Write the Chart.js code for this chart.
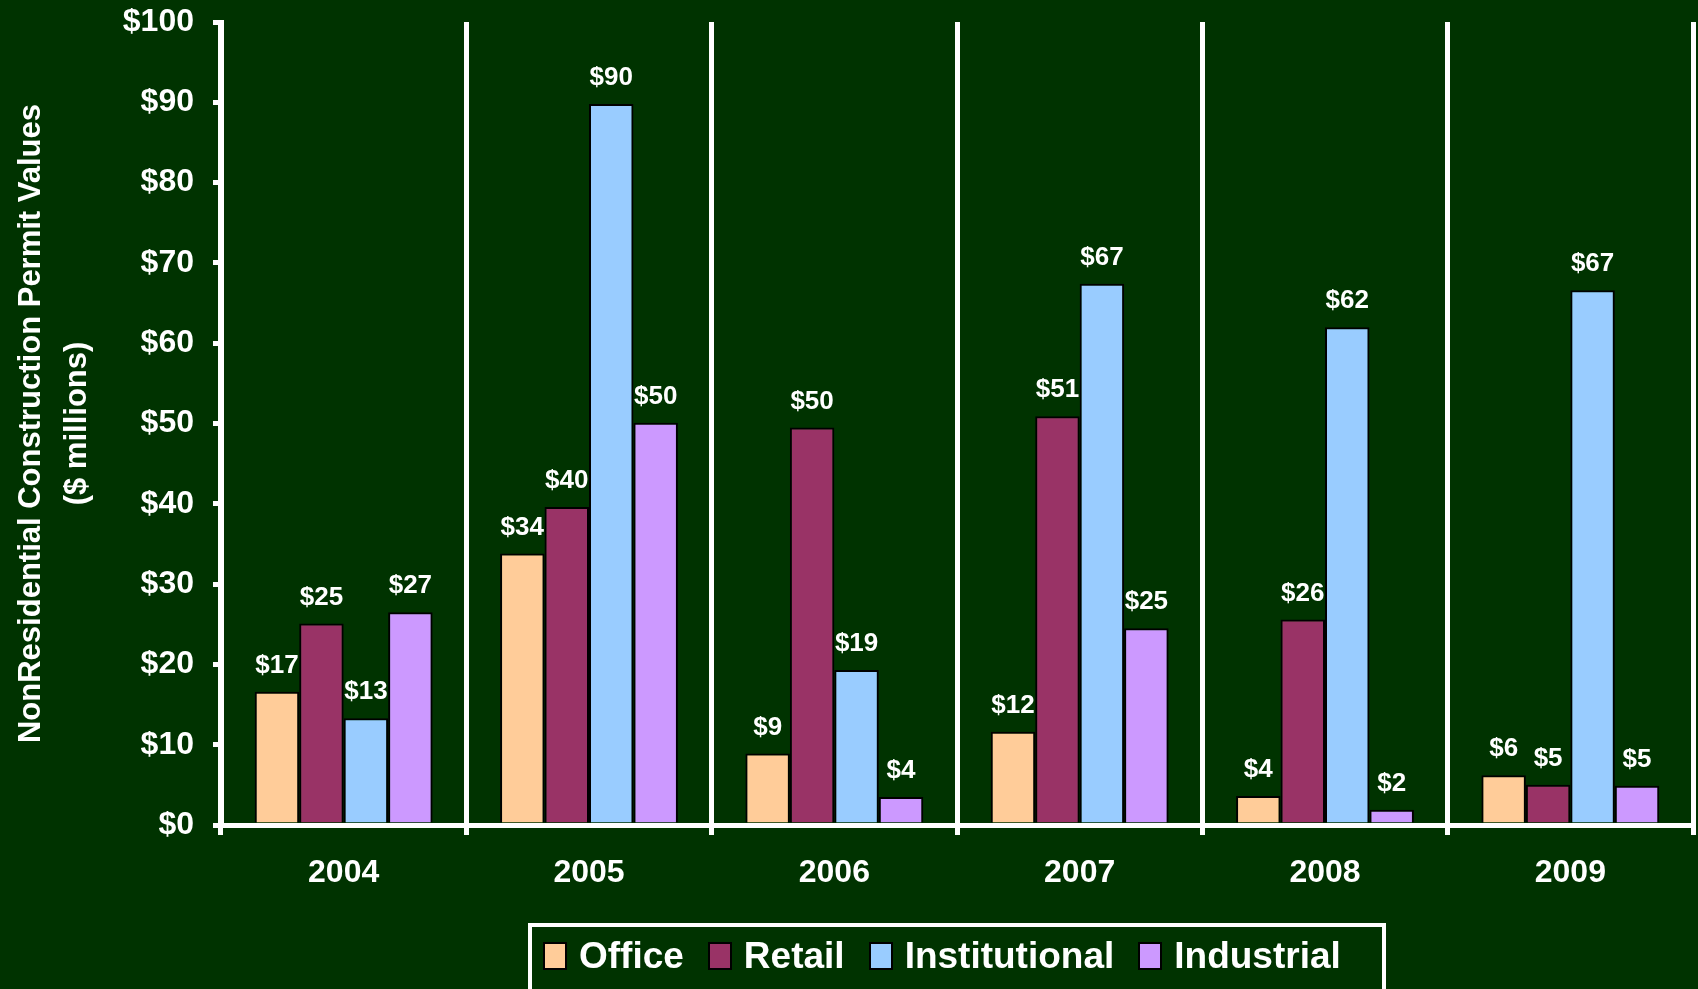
<!DOCTYPE html>
<html>
<head>
<meta charset="utf-8">
<script src="https://cdn.jsdelivr.net/npm/chart.js@4"></script>
<style>
  body { margin: 0; background: #003300; }
  #wrap { position: relative; width: 1698px; height: 989px; overflow: hidden; background: #003300; }
  #legend {
    position: absolute; left: 528px; top: 923px; width: 858px; height: 80px;
    border: 4px solid #fff; box-sizing: border-box;
    display: flex; align-items: center; padding-left: 11px; padding-bottom: 14px;
    font: bold 37px "Liberation Sans", Arial, sans-serif; color: #fff;
  }
  #legend .item { display: flex; align-items: center; margin-right: 24px; }
  #legend .box { width: 20px; height: 24px; border: 2px solid #000; margin-right: 12px; }
</style>
</head>
<body>
<div id="wrap">
  <canvas id="permitChart" width="1698" height="989"></canvas>
  <div id="legend"></div>
</div>
<script>
// chart data
const years = ['2004', '2005', '2006', '2007', '2008', '2009'];
const office = [16.6, 33.8, 8.9, 11.6, 3.6, 6.2];
const retail = [25.1, 39.6, 49.5, 50.9, 25.6, 5.0];
const institutional = [13.3, 89.8, 19.3, 67.4, 62.0, 66.6];
const industrial = [26.5, 50.1, 3.5, 24.5, 1.9, 4.9];
const seriesNames = ['Office', 'Retail', 'Institutional', 'Industrial'];
const seriesColors = ['#FFCC99', '#993366', '#99CCFF', '#CC99FF'];
const yTicks = [0, 10, 20, 30, 40, 50, 60, 70, 80, 90, 100];

const FONT = '"Liberation Sans", Arial, sans-serif';

// draw "$xx" over each bar
const valueLabels = {
    id: 'valueLabels',
    afterDatasetsDraw(chart) {
        const ctx = chart.ctx;
        ctx.save();
        ctx.font = 'bold 26px ' + FONT;
        ctx.fillStyle = '#fff';
        ctx.textAlign = 'center';
        ctx.textBaseline = 'middle';
        chart.data.datasets.forEach((ds, i) => {
            chart.getDatasetMeta(i).data.forEach((bar, j) => {
                ctx.fillText('$' + Math.round(ds.data[j]), bar.x, bar.y - 26);
            });
        });
        ctx.restore();
    }
};

const allSeries = [office, retail, institutional, industrial];

const ctx = document.getElementById('permitChart').getContext('2d');
new Chart(ctx, {
    type: 'bar',
    data: {
        labels: years,
        datasets: allSeries.map((vals, i) => ({
            label: seriesNames[i],
            data: vals,
            backgroundColor: seriesColors[i],
            borderColor: '#000',
            borderWidth: 2,
            categoryPercentage: 0.725,
            barPercentage: 1.0
        }))
    },
    options: {
        responsive: false,
        animation: false,
        devicePixelRatio: 1,
        layout: { padding: { top: 22, right: 5, left: 0, bottom: 0 } },
        plugins: {
            legend: { display: false },
            tooltip: { enabled: false }
        },
        scales: {
            x: {
                afterFit: (scale) => { scale.height = 164; scale.paddingLeft = 0; scale.paddingRight = 0; },
                grid: { color: '#fff', lineWidth: 5, offset: true, drawTicks: true, tickLength: 10 },
                border: { color: '#fff', width: 5 },
                ticks: { color: '#fff', font: { family: FONT, size: 32, weight: 'bold' }, padding: 19 }
            },
            y: {
                min: 0,
                max: 100,
                afterFit: (scale) => { scale.width = 221; scale.paddingTop = 0; scale.paddingBottom = 0; },
                afterBuildTicks: (scale) => { scale.ticks = yTicks.map(v => ({ value: v })); },
                grid: { drawOnChartArea: false, drawTicks: true, tickLength: 8, color: '#fff', lineWidth: 5 },
                border: { color: '#fff', width: 5 },
                ticks: {
                    color: '#fff',
                    padding: 19,
                    font: { family: FONT, size: 32, weight: 'bold' },
                    callback: (v) => '$' + v
                },
                title: {
                    display: true,
                    text: ['NonResidential Construction Permit Values', '($ millions)'],
                    color: '#fff',
                    font: { family: FONT, size: 31, weight: 'bold', lineHeight: 1.5 },
                    padding: { top: 8, bottom: 0 }
                }
            }
        }
    },
    plugins: [valueLabels]
});

// legend box below the chart
const legend = document.getElementById('legend');
seriesNames.forEach((name, i) => {
    const item = document.createElement('div');
    item.className = 'item';
    const box = document.createElement('span');
    box.className = 'box';
    box.style.background = seriesColors[i];
    const txt = document.createElement('span');
    txt.textContent = name;
    item.appendChild(box);
    item.appendChild(txt);
    legend.appendChild(item);
});
</script>
</body>
</html>
